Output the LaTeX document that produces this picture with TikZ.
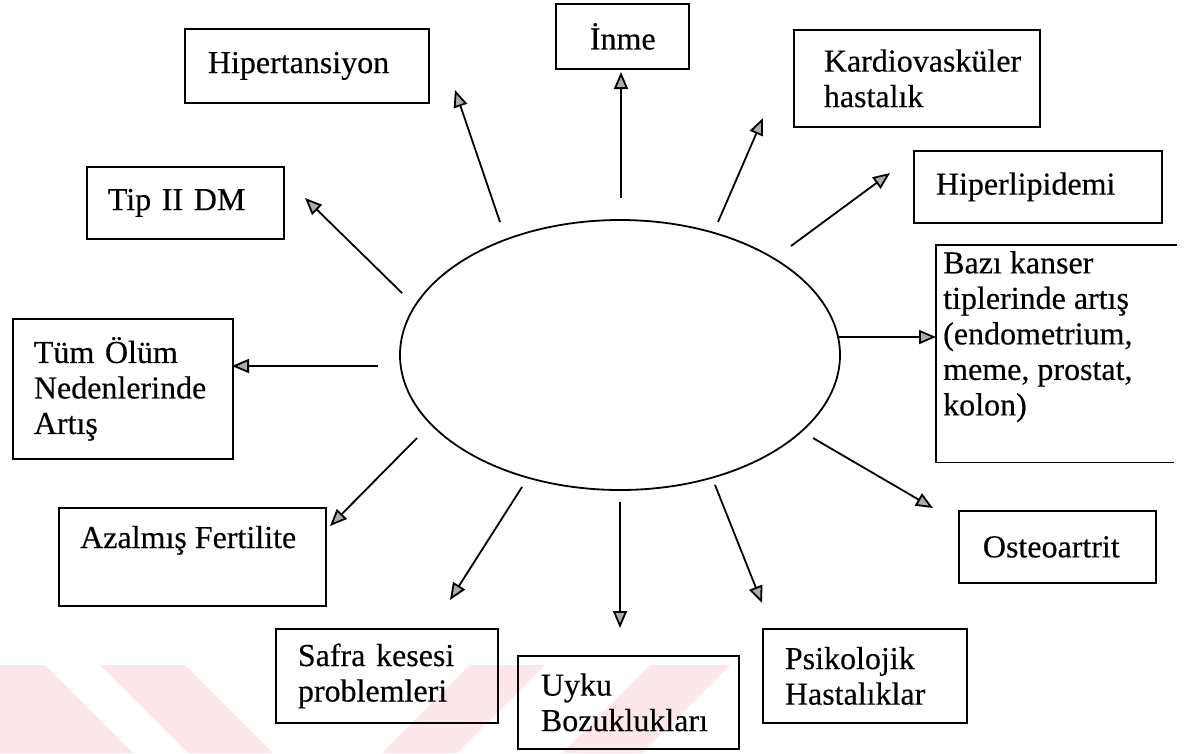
\documentclass[tikz,border=0pt]{standalone}
\usepackage{fontspec}
\setmainfont{Liberation Serif}[FakeBold=0.35]
\usetikzlibrary{arrows.meta}
\definecolor{wm}{RGB}{252,230,234}
\begin{document}
\begin{tikzpicture}[x=1pt,y=-1pt,
  box/.style={draw, line width=1.8pt, anchor=north west, align=left,
    font=\fontsize{32}{35.5}\selectfont, inner ysep=0pt},
  lbl/.style={anchor=north west, align=left, inner sep=0pt,
    font=\fontsize{32}{35.5}\selectfont},
  arr/.style={line width=1.8pt, -{Triangle[length=17pt,width=14pt,fill=gray!65]}},
  oval/.style={line width=1.8pt}]
\useasboundingbox (0,0) rectangle (1194,753);
% faint watermark
\begin{scope}
\clip (0,0) rectangle (1194,753);
\fill[wm] (-100,665) -- (45,665) -- (133,753) -- (-12,753) -- cycle;
\fill[wm] (100,665) -- (185,665) -- (273,753) -- (188,753) -- cycle;
\fill[wm] (470,665) -- (545,665) -- (457,753) -- (382,753) -- cycle;
\fill[wm] (650,665) -- (730,665) -- (642,753) -- (562,753) -- cycle;
\end{scope}
% central ellipse
\draw[oval] (620,355) ellipse [x radius=220, y radius=135];
% boxes
\node[box, minimum height=74pt, inner xsep=23pt, text width=198pt] (hip) at (184,28) {Hipertansiyon};
\node[box, minimum height=65pt, inner xsep=34pt, text width=65pt] (inme) at (555,3) {\raisebox{-4pt}{İnme}};
\node[box, minimum height=97pt, inner xsep=30pt, text width=186pt] (kardio) at (793,29) {Kardiovasküler\\hastalık};
\node[box, minimum height=72pt, inner xsep=22pt, text width=204pt] (hiperl) at (913,150) {Hiperlipidemi};
\node[anchor=north west, minimum width=241pt, minimum height=217pt, inner sep=0pt] (bazi) at (936,245) {};
\draw[line width=1.8pt] (bazi.north east) -- (bazi.north west) -- (bazi.south west) -- ([xshift=-3pt]bazi.south east);
\node[lbl] (bazit) at (943,251) {Bazı kanser\\tiplerinde artış\\(endometrium,\\meme, prostat,\\kolon)};
\node[box, minimum height=72pt, inner xsep=24pt, text width=149pt] (osteo) at (958,510) {Osteoartrit};
\node[box, minimum height=94pt, inner xsep=22pt, text width=160pt] (psiko) at (762,628) {Psikolojik\\Hastalıklar};
\node[box, minimum height=93pt, inner xsep=23pt, text width=175pt] (uyku) at (517,655) {Uyku\\Bozuklukları};
\node[box, minimum height=94pt, inner xsep=22pt, text width=178pt] (safra) at (275,628) {Safra~kesesi\\problemleri};
\node[anchor=north west, draw, line width=1.8pt, minimum width=267pt, minimum height=98pt, inner sep=0pt] (azal) at (58,507) {};
\node[lbl, anchor=base west] (azalt) at (80,548) {Azalmış~Fertilite};
\node[box, minimum height=140pt, inner xsep=21pt, text width=178pt] (tum) at (12,318) {Tüm~Ölüm\\Nedenlerinde\\Artış};
\node[box, minimum height=72pt, inner xsep=21pt, text width=155pt] (tip) at (86,166) {Tip~II~DM};
% arrow end points
\coordinate (s1) at (500,222); \coordinate (e1) at (455,90);
\coordinate (s2) at (621,198); \coordinate (e2) at (621,72);
\coordinate (s3) at (718,222); \coordinate (e3) at (763,118);
\coordinate (s4) at (791,246); \coordinate (e4) at (890,173);
\coordinate (s5) at (838,337); \coordinate (e5) at (936,337);
\coordinate (s6) at (813,438); \coordinate (e6) at (933,508);
\coordinate (s7) at (715,485); \coordinate (e7) at (762,603);
\coordinate (s8) at (620,502); \coordinate (e8) at (620,628);
\coordinate (s9) at (522,487); \coordinate (e9) at (450,600);
\coordinate (s10) at (417,438); \coordinate (e10) at (330,526);
\coordinate (s11) at (378,366); \coordinate (e11) at (232,366);
\coordinate (s12) at (402,293); \coordinate (e12) at (305,198);
\foreach \i in {1,...,12} {\draw[arr] (s\i) -- (e\i);}
\end{tikzpicture}
\end{document}
